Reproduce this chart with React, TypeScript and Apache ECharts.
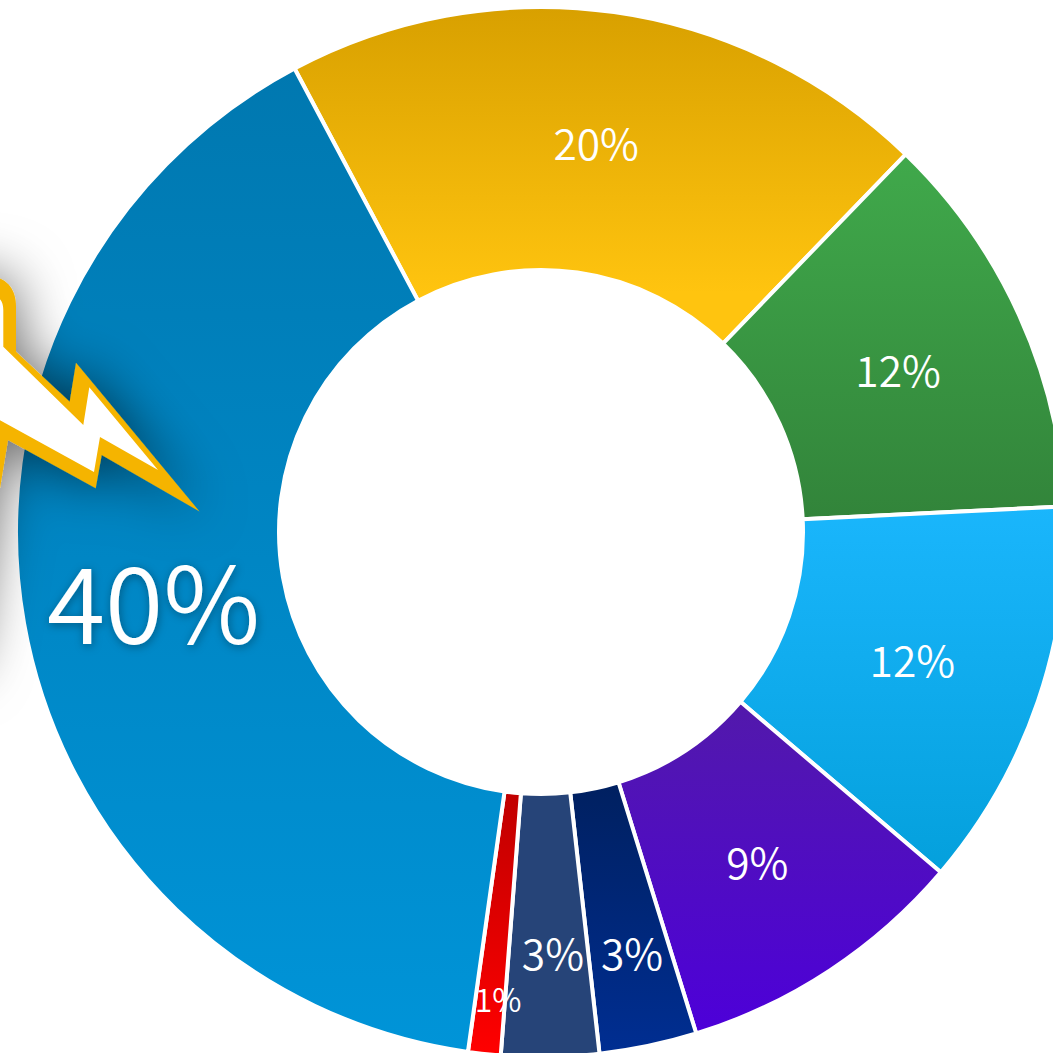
import React, { useEffect, useRef } from "react";
import * as echarts from "echarts";

const sliceNames = ["A", "B", "C", "D", "E", "F", "G", "H"];
const sliceValues = [20, 12, 12, 9, 3, 3, 1, 40];
const sliceTop = ["#d8a000", "#40a94b", "#1ab6fc", "#5219ab", "#002060", "#264478", "#c00000", "#0078b0"];
const sliceBottom = ["#ffc40f", "#32843a", "#04a0dc", "#4d00d9", "#002e92", "#264478", "#ff0000", "#0094d8"];
const gradientEnds = [0.85, 1, 1, 1, 1, 1, 1, 1];
const labelSizes = [42.5, 42.5, 42.5, 42.5, 42.5, 42.5, 32, 106];
const labelDx = [0, -4, -4, -2, 10, 5, 0, 3];
const labelDy = [2, 0, -1, -3, 31, 23, 72, -3];

const boltOuter =
  "M199.5 511.5 L76 362.7 L69.7 401.7 L16 351.7 L16 306.7 C16 290 8 279 -8 276 L-90 276 L-90 670 L-30 670 L8 440 L95.7 488.3 L101.7 455 Z";
const boltInner =
  "M158 470 L100 437 L94 472 L-6 417 L-6 296 C0 297 3.3 302 3.3 310 L3.3 346.7 L83.3 425 L89.3 387.3 Z";

echarts.graphic.registerShape("boltOuter", echarts.graphic.extendPath(boltOuter as any, {}) as any);
echarts.graphic.registerShape("boltInner", echarts.graphic.extendPath(boltInner as any, {}) as any);

export default function App() {
  const ref = useRef<HTMLDivElement>(null);
  useEffect(() => {
    document.body.style.margin = "0";
    const chart = echarts.init(ref.current!, undefined, { renderer: "svg" });
    chart.setOption({
      animation: false,
      backgroundColor: "#ffffff",
      series: [
        {
          type: "pie",
          silent: true,
          center: [541, 532],
          radius: [262, 525],
          startAngle: 118,
          clockwise: true,
          avoidLabelOverlap: false,
          labelLine: { show: false },
          labelLayout: (p: any) => ({ dx: labelDx[p.dataIndex], dy: labelDy[p.dataIndex], hideOverlap: false }),
          data: sliceValues.map((value, i) => ({
            name: sliceNames[i],
            value,
            itemStyle: {
              borderColor: "#ffffff",
              borderWidth: 4,
              color: {
                type: "linear",
                x: 0,
                y: 0,
                x2: 0,
                y2: 1,
                colorStops: [
                  { offset: 0, color: sliceTop[i] },
                  { offset: gradientEnds[i], color: sliceBottom[i] },
                ],
              },
            },
            label: {
              show: true,
              position: "inside",
              formatter: "{c}%",
              color: "#ffffff",
              fontFamily: "Noto Sans CJK SC",
              fontWeight: 350,
              fontSize: labelSizes[i],
              ...(i === 7
                ? { textShadowColor: "rgba(0,0,0,0.35)", textShadowBlur: 10, textShadowOffsetX: 1, textShadowOffsetY: 2 }
                : {}),
            },
          })),
        },
      ],
      graphic: [
        {
          type: "boltOuter",
          z: 100,
          silent: true,
          style: { fill: "#f5b400", shadowColor: "rgba(0,0,0,0.6)", shadowBlur: 55 },
        },
        { type: "boltInner", z: 101, silent: true, style: { fill: "#ffffff" } },
      ],
    });
    return () => chart.dispose();
  }, []);
  return <div ref={ref} style={{ position: "absolute", left: 0, top: 0, width: 1053, height: 1053 }} />;
}
